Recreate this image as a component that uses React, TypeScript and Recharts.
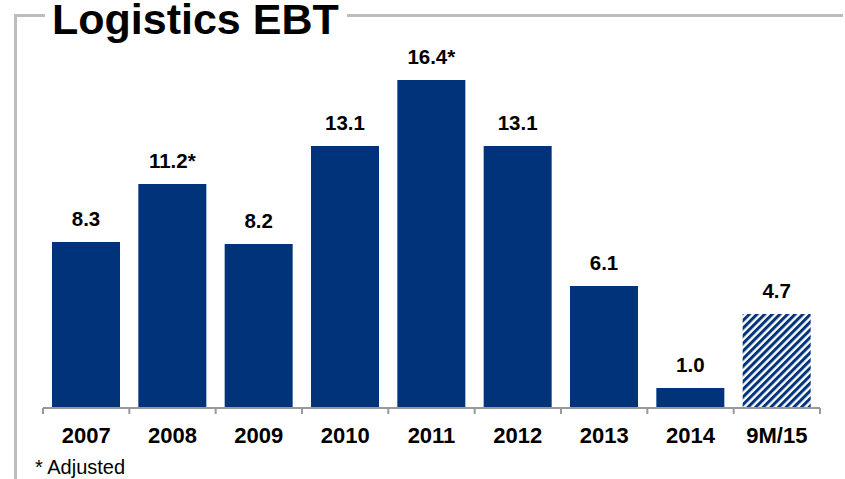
import { Bar, BarChart, Cell, LabelList, XAxis, YAxis } from "recharts";

const years = ["2007", "2008", "2009", "2010", "2011", "2012", "2013", "2014", "9M/15"];
const ebt = [8.3, 11.2, 8.2, 13.1, 16.4, 13.1, 6.1, 1.0, 4.7];
const valueLabels = ["8.3", "11.2*", "8.2", "13.1", "16.4*", "13.1", "6.1", "1.0", "4.7"];
const hatched = [false, false, false, false, false, false, false, false, true];

const BLUE = "#00337A";
const GRAY = "#BDBDBD";
const FONT = "Arial, 'Liberation Sans', sans-serif";
const W = 845;
const H = 479;
const LEFT = 43;
const RIGHT = 25;
const BAND = (W - LEFT - RIGHT) / years.length;

const data = years.map((y, i) => ({ year: y, value: ebt[i], label: valueLabels[i], hatch: hatched[i] }));

function YearTick(props: any) {
  const { x, y, payload, index } = props;
  const half = BAND / 2;
  return (
    <g>
      <line x1={x - half} x2={x - half} y1={y - 6} y2={y} stroke="#999" strokeWidth={2} />
      {index === years.length - 1 && (
        <line x1={x + half} x2={x + half} y1={y - 6} y2={y} stroke="#999" strokeWidth={2} />
      )}
      <text x={x} y={y + 28.5} textAnchor="middle" fontFamily={FONT} fontWeight="bold" fontSize={22} fill="#000">
        {payload.value}
      </text>
    </g>
  );
}

function ValueLabel(props: any) {
  const { x, y, width, value } = props;
  return (
    <text x={x + width / 2} y={y - 16} textAnchor="middle" fontFamily={FONT} fontWeight="bold" fontSize={20.5} fill="#000">
      {value}
    </text>
  );
}

export default function App() {
  return (
    <div style={{ position: "absolute", left: 0, top: 0, width: W, height: H, background: "#fff" }}>
      <svg width={W} height={H} style={{ position: "absolute", left: 0, top: 0 }}>
        <defs>
          <pattern id="hatch" width="5.4" height="5.4" patternUnits="userSpaceOnUse" patternTransform="rotate(45)">
            <rect width="5.4" height="5.4" fill="#fff" />
            <rect width="3" height="5.4" fill={BLUE} />
          </pattern>
        </defs>
        <line x1={15.5} x2={15.5} y1={14} y2={H} stroke={GRAY} strokeWidth={3} />
        <line x1={14} x2={45} y1={15.5} y2={15.5} stroke={GRAY} strokeWidth={3} />
        <line x1={347} x2={843} y1={15.5} y2={15.5} stroke={GRAY} strokeWidth={3} />
        <text x={52} y={34} fontFamily={FONT} fontWeight="bold" fontSize={43} fill="#000">
          Logistics EBT
        </text>
        <text x={35} y={474} fontFamily={FONT} fontSize={20} fill="#000">
          * Adjusted
        </text>
      </svg>
      <div style={{ position: "absolute", left: 0, top: 0 }}>
        <BarChart width={W} height={H} data={data} margin={{ top: 8, right: RIGHT, bottom: 0, left: LEFT }}>
          <YAxis hide domain={[0, 20]} />
          <XAxis
            dataKey="year"
            height={71}
            axisLine={{ stroke: "#999", strokeWidth: 2 }}
            tickLine={false}
            tickSize={6}
            tickMargin={0}
            tick={<YearTick />}
            interval={0}
          />
          <Bar dataKey="value" barSize={68} isAnimationActive={false}>
            {data.map((d, i) => (
              <Cell key={i} fill={d.hatch ? "url(#hatch)" : BLUE} />
            ))}
            <LabelList dataKey="label" content={<ValueLabel />} />
          </Bar>
        </BarChart>
      </div>
    </div>
  );
}
